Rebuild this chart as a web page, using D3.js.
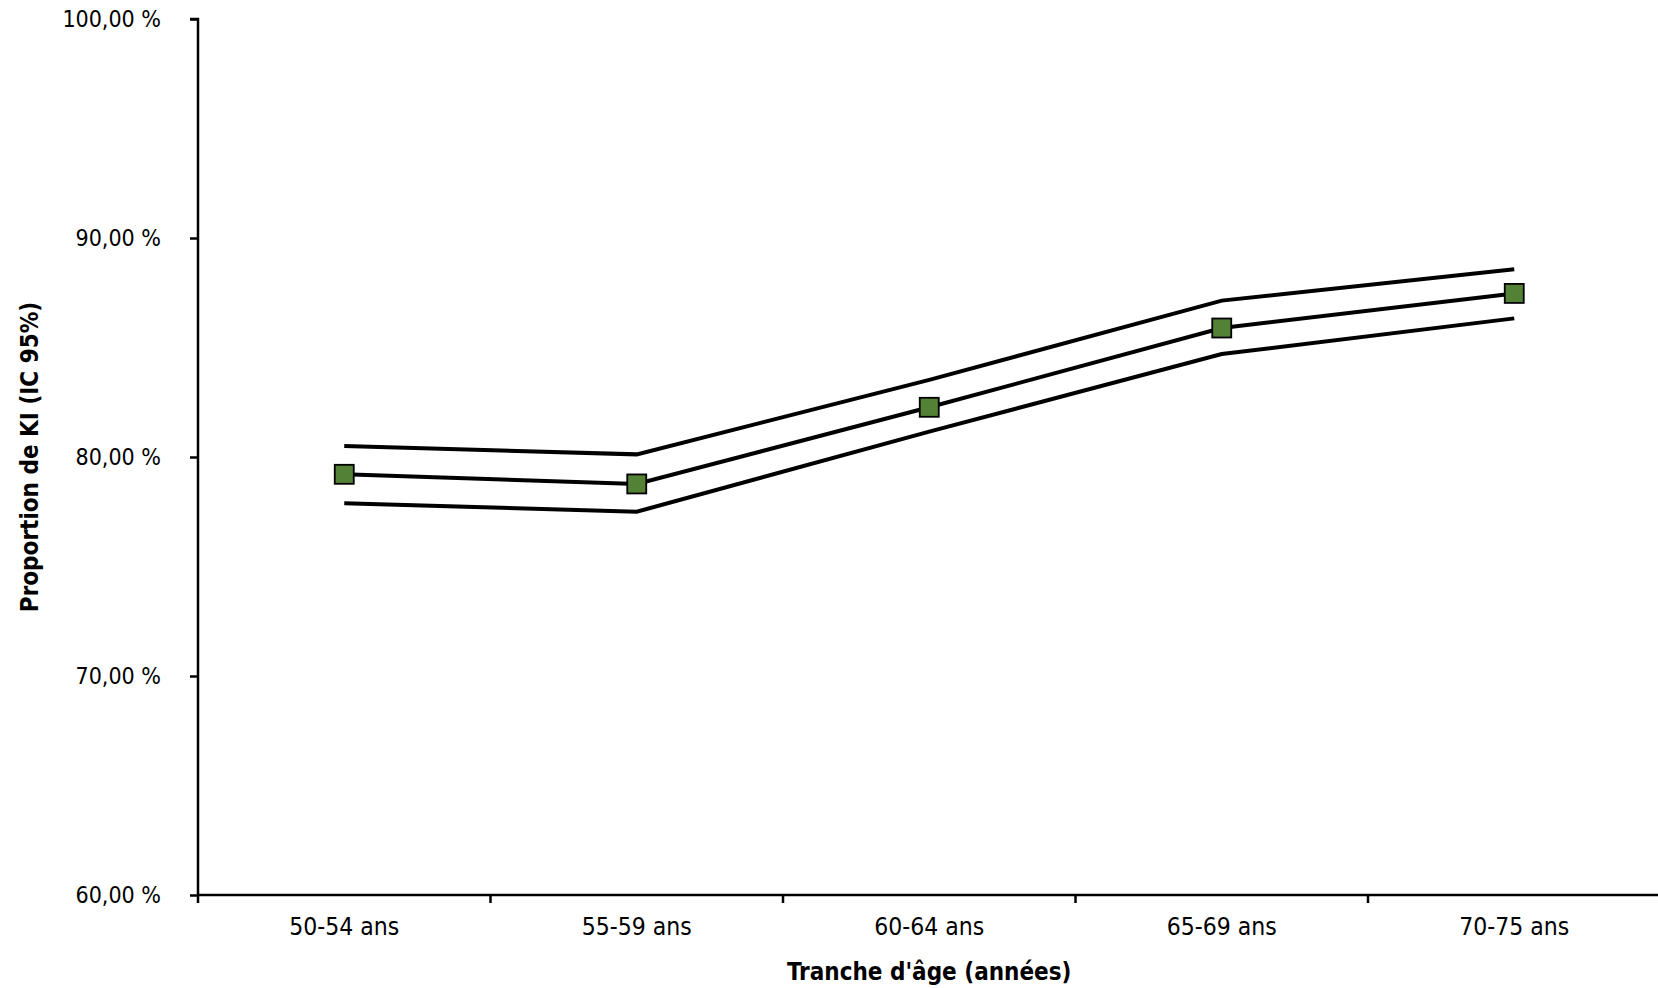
<!DOCTYPE html>
<html>
<head>
<meta charset="utf-8">
<script src="https://cdn.jsdelivr.net/npm/d3@7"></script>
<style>
  html, body { margin: 0; padding: 0; background: #fff; }
  svg { display: block; }
  text { font-family: "DejaVu Sans Condensed", "DejaVu Sans", sans-serif; fill: #000; }
</style>
</head>
<body>
<svg id="chart" width="1658" height="988"></svg>
<script>
const categories = ["50-54 ans", "55-59 ans", "60-64 ans", "65-69 ans", "70-75 ans"];
const proportion = [79.21, 78.77, 82.27, 85.89, 87.47];
const upperCI = [80.50, 80.12, 83.52, 87.14, 88.57];
const lowerCI = [77.89, 77.50, 81.16, 84.70, 86.33];
const yTicks = [60, 70, 80, 90, 100];
const xTitle = "Tranche d'âge (années)";
const yTitle = "Proportion de KI (IC 95%)";

const svg = d3.select("#chart");
const mLeft = 198, mRight = 1660.5, mTop = 19, mBottom = 895;

const x = d3.scaleBand().domain(categories).range([mLeft, mRight]).paddingInner(0).paddingOuter(0);
const y = d3.scaleLinear().domain([60, 100]).range([mBottom, mTop]);
const cx = d => x(d) + x.bandwidth() / 2;

// Y axis
const yAxis = d3.axisLeft(y).tickValues(yTicks).tickSize(8).tickPadding(29)
  .tickFormat(d => d3.format(".2f")(d).replace(".", ",") + " %");
const gy = svg.append("g").attr("transform", `translate(${mLeft},0)`).call(yAxis);
gy.select(".domain").attr("stroke", "#000").attr("stroke-width", 2.5).attr("d", `M-8,${mTop}H0V${mBottom + 8}`);
gy.selectAll(".tick line").attr("stroke", "#000").attr("stroke-width", 2.5);
gy.selectAll(".tick text").style("font-size", "23px");

// X axis
const xAxis = d3.axisBottom(x).tickSize(0).tickPadding(23);
const gx = svg.append("g").attr("transform", `translate(0,${mBottom})`).call(xAxis);
gx.select(".domain").attr("stroke", "#000").attr("stroke-width", 2.5).attr("d", `M${mLeft},0H1658`);
gx.selectAll(".tick text").style("font-size", "24.5px");
gx.selectAll("line.bound").data(categories.slice(1)).enter().append("line")
  .attr("class", "bound")
  .attr("x1", d => x(d)).attr("x2", d => x(d))
  .attr("y1", 0).attr("y2", 8)
  .attr("stroke", "#000").attr("stroke-width", 2.5);

// Lines
const line = d3.line().x((d, i) => cx(categories[i])).y(d => y(d));
[upperCI, proportion, lowerCI].forEach(series => {
  svg.append("path").datum(series)
    .attr("d", line)
    .attr("fill", "none")
    .attr("stroke", "#000")
    .attr("stroke-width", 4)
    .attr("stroke-linejoin", "miter");
});

// Markers
const ms = 19;
svg.selectAll("rect.marker").data(proportion).enter().append("rect")
  .attr("class", "marker")
  .attr("x", (d, i) => cx(categories[i]) - ms / 2)
  .attr("y", d => y(d) - ms / 2)
  .attr("width", ms).attr("height", ms)
  .attr("fill", "#538135")
  .attr("stroke", "#000").attr("stroke-width", 1.8);

// Titles
svg.append("text")
  .attr("x", (mLeft + mRight) / 2).attr("y", 980)
  .attr("text-anchor", "middle")
  .style("font-size", "24px").style("font-weight", "bold")
  .text(xTitle);

svg.append("text")
  .attr("transform", `translate(38,${(mTop + mBottom) / 2}) rotate(-90)`)
  .attr("text-anchor", "middle")
  .style("font-size", "24px").style("font-weight", "bold")
  .text(yTitle);
</script>
</body>
</html>
